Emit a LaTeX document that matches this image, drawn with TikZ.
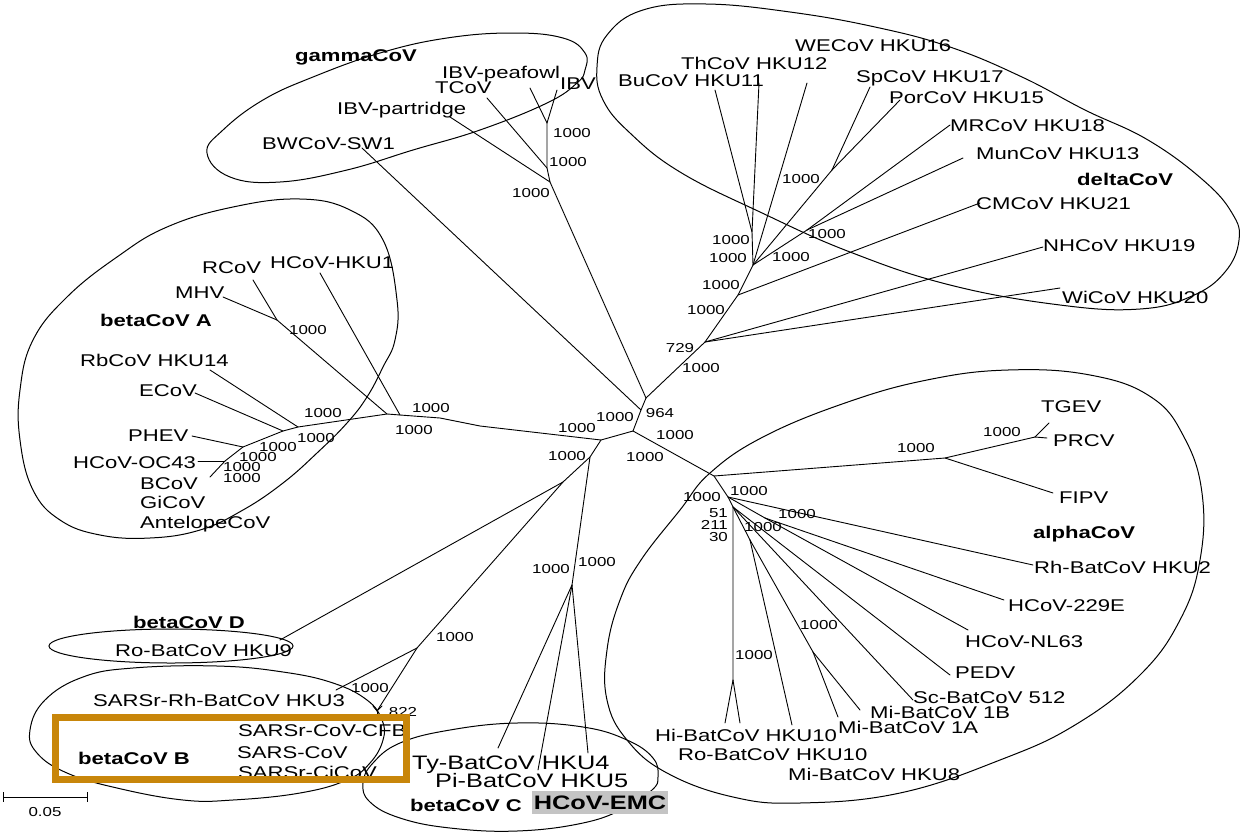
\documentclass[tikz,border=0pt]{standalone}
\usepackage{fontspec}
\setmainfont{Liberation Sans}[FakeStretch=1.3]
\definecolor{boxorange}{HTML}{C8860A}
\definecolor{emcgray}{HTML}{C4C4C4}
\begin{document}
\begin{tikzpicture}[x=1pt,y=-1pt,
  br/.style={line width=0.9pt, line cap=round, line join=round},
  loopline/.style={line width=1pt},
  lab/.style={anchor=west, inner sep=0pt, text height=12pt, text depth=0pt, font=\fontsize{17}{17}\selectfont},
  blab/.style={lab, font=\fontsize{17}{17}\selectfont\bfseries},
  biglab/.style={anchor=west, inner sep=0pt, text height=14pt, text depth=0pt, font=\fontsize{19.5}{19.5}\selectfont},
  num/.style={inner sep=0pt, text height=9.3pt, text depth=0pt, font=\fontsize{13}{13}\selectfont},
]
\path[use as bounding box] (0,0) rectangle (1240,836);

% ---------------- clade loops ----------------
\draw[loopline] plot[smooth cycle, tension=0.7] coordinates {(207,153) (223,130) (263,100) (313,77) (380,53) (447,38) (513,33) (563,38) (585,53) (585,70) (577,83) (547,103) (480,130) (413,150) (347,170) (280,182) (230,177)};
\draw[loopline] plot[smooth cycle, tension=0.7] coordinates {(597,67) (607,35) (643,10) (706,4) (790,12) (875,27) (950,47) (1022,77) (1085,110) (1148,140) (1203,180) (1232,213) (1239,240) (1225,272) (1192,296) (1140,309) (1060,305) (950,285) (850,252) (760,212) (680,172) (630,133) (603,100)};
\draw[loopline] plot[smooth cycle, tension=0.7] coordinates {(300,199) (350,210) (383,240) (397,300) (395,340) (383,367) (367,397) (347,423) (317,453) (283,483) (243,510) (200,530) (150,538) (100,535) (60,520) (33,490) (20,440) (20,390) (33,340) (67,297) (117,257) (167,227) (233,207)};
\draw[loopline] (171,646) ellipse [x radius=122pt, y radius=17pt];
\draw[loopline] plot[smooth cycle, tension=0.7] coordinates {(30,730) (45,700) (83,677) (133,668) (217,666) (283,672) (333,683) (367,700) (382,720) (383,740) (370,763) (347,780) (300,793) (233,800) (183,800) (117,788) (67,773) (37,753)};
\draw[loopline] plot[smooth cycle, tension=0.7] coordinates {(363,783) (373,763) (400,743) (450,730) (517,723) (583,727) (627,740) (653,758) (658,777) (652,790) (625,808) (583,823) (517,831) (450,828) (400,818) (370,802)};
\draw[loopline] plot[smooth cycle, tension=0.7] coordinates {(710,473) (763,437) (845,403) (927,380) (1008,370) (1090,375) (1151,397) (1184,437) (1202,493) (1200,560) (1180,620) (1140,675) (1075,725) (1000,760) (900,793) (800,803) (733,797) (667,773) (627,740) (607,700) (607,650) (620,600) (641,560) (680,510)};

% ---------------- tree coordinates ----------------
\coordinate (C) at (633,431);
\coordinate (Bw) at (641,410);
\coordinate (Gd) at (646,398);
% gamma
\coordinate (G0) at (550,182);
\coordinate (G1) at (547,168);
\coordinate (G2) at (547,123);
\coordinate (lBW) at (362,148);
\coordinate (lPart) at (450,117);
\coordinate (lTCoV) at (487,98);
\coordinate (lPea) at (530,88);
\coordinate (lIBV) at (557,90);
% delta
\coordinate (D1) at (705,342);
\coordinate (D2) at (738,295);
\coordinate (D3) at (753,265);
\coordinate (D4) at (752,232);
\coordinate (P) at (832,170);
\coordinate (M) at (807,230);
\coordinate (lBu) at (715,90);
\coordinate (lTh) at (759,83);
\coordinate (lWE) at (807,83);
\coordinate (lSp) at (870,87);
\coordinate (lPor) at (900,100);
\coordinate (lMR) at (950,125);
\coordinate (lMun) at (963,158);
\coordinate (lCM) at (980,203);
\coordinate (lNH) at (1043,247);
\coordinate (lWi) at (1060,288);
% beta
\coordinate (B0) at (601,440);
\coordinate (a1) at (480,426);
\coordinate (a2) at (440,418);
\coordinate (A1) at (400,415);
\coordinate (A2) at (387,414);
\coordinate (A4) at (298,427);
\coordinate (A5) at (283,431);
\coordinate (A6) at (243,447);
\coordinate (A7) at (225,461);
\coordinate (A8) at (210,477);
\coordinate (AMR) at (277,320);
\coordinate (lHKU1) at (320,273);
\coordinate (lMHV) at (223,297);
\coordinate (lRCoV) at (253,280);
\coordinate (lRb) at (210,370);
\coordinate (lE) at (195,393);
\coordinate (lPH) at (192,436);
\coordinate (lOC) at (198,461);
\coordinate (BBD) at (590,457);
\coordinate (BDB) at (563,482);
\coordinate (BC) at (572,585);
\coordinate (B1) at (417,648);
\coordinate (B822) at (377,711);
\coordinate (lHKU9) at (280,640);
\coordinate (lHKU3) at (336,690);
\coordinate (t1) at (373,706);
\coordinate (t2) at (382,706);
\coordinate (t3) at (377,716);
\coordinate (lTy) at (498,748);
\coordinate (lPi) at (538,770);
\coordinate (lEMC) at (588,753);
% alpha
\coordinate (A0) at (714,476);
\coordinate (T1) at (945,458);
\coordinate (T2) at (1035,437);
\coordinate (lTGEV) at (1049,423);
\coordinate (lPRCV) at (1047,438);
\coordinate (lFIPV) at (1053,493);
\coordinate (X1) at (728,497);
\coordinate (X2) at (733,507);
\coordinate (N2) at (765,518);
\coordinate (lRh) at (1033,565);
\coordinate (l229) at (1004,600);
\coordinate (lNL) at (968,630);
\coordinate (lPED) at (950,675);
\coordinate (lSc) at (913,700);
\coordinate (B1a) at (750,540);
\coordinate (M1) at (813,652);
\coordinate (lHKU8) at (792,725);
\coordinate (l1A) at (838,717);
\coordinate (l1B) at (860,710);
\coordinate (H0) at (733,680);
\coordinate (lHi) at (725,723);
\coordinate (lRo) at (740,723);

% ---------------- branches ----------------
\draw[br] (C) -- (Bw) -- (Gd);
\draw[br] (Bw) -- (lBW);
\draw[br] (Gd) -- (G0) -- (G1) -- (G2);
\draw[br] (G0) -- (lPart);
\draw[br] (G1) -- (lTCoV);
\draw[br] (G2) -- (lPea);
\draw[br] (G2) -- (lIBV);
\draw[br] (Gd) -- (D1) -- (D2) -- (D3) -- (D4);
\draw[br] (D1) -- (lNH);
\draw[br] (D1) -- (lWi);
\draw[br] (D2) -- (lCM);
\draw[br] (D3) -- (lWE);
\draw[br] (D3) -- (P);
\draw[br] (D3) -- (M);
\draw[br] (D4) -- (lBu);
\draw[br] (D4) -- (lTh);
\draw[br] (P) -- (lSp);
\draw[br] (P) -- (lPor);
\draw[br] (M) -- (lMR);
\draw[br] (M) -- (lMun);
\draw[br] (C) -- (B0) -- (a1) -- (a2) -- (A1) -- (A2) -- (A4) -- (A5) -- (A6) -- (A7) -- (A8);
\draw[br] (A1) -- (lHKU1);
\draw[br] (A2) -- (AMR);
\draw[br] (AMR) -- (lMHV);
\draw[br] (AMR) -- (lRCoV);
\draw[br] (A4) -- (lRb);
\draw[br] (A5) -- (lE);
\draw[br] (A6) -- (lPH);
\draw[br] (A7) -- (lOC);
\draw[br] (B0) -- (BBD) -- (BDB) -- (B1) -- (B822);
\draw[br] (BBD) -- (BC);
\draw[br] (BDB) -- (lHKU9);
\draw[br] (B1) -- (lHKU3);
\draw[br] (B822) -- (t1);
\draw[br] (B822) -- (t2);
\draw[br] (B822) -- (t3);
\draw[br] (BC) -- (lTy);
\draw[br] (BC) -- (lPi);
\draw[br] (BC) -- (lEMC);
\draw[br] (C) -- (A0) -- (X1) -- (X2) -- (H0);
\draw[br] (A0) -- (T1) -- (T2);
\draw[br] (T1) -- (lFIPV);
\draw[br] (T2) -- (lTGEV);
\draw[br] (T2) -- (lPRCV);
\draw[br] (X1) -- (lRh);
\draw[br] (X1) -- (N2);
\draw[br] (N2) -- (l229);
\draw[br] (N2) -- (lNL);
\draw[br] (X2) -- (lPED);
\draw[br] (X2) -- (lSc);
\draw[br] (X2) -- (B1a);
\draw[br] (B1a) -- (lHKU8);
\draw[br] (B1a) -- (M1);
\draw[br] (M1) -- (l1A);
\draw[br] (M1) -- (l1B);
\draw[br] (H0) -- (lHi);
\draw[br] (H0) -- (lRo);

% ---------------- bootstrap values ----------------
\node[num] (n1) at (572,133) {1000};
\node[num] (n2) at (568,162) {1000};
\node[num] (n3) at (531,193) {1000};
\node[num] (n4) at (308,330) {1000};
\node[num] (n5) at (431,408) {1000};
\node[num] (n6) at (414,430) {1000};
\node[num] (n7) at (323,413) {1000};
\node[num] (n8) at (316,438) {1000};
\node[num] (n9) at (278,447) {1000};
\node[num] (n10) at (258,457) {1000};
\node[num] (n11) at (242,467) {1000};
\node[num] (n12) at (242,478) {1000};
\node[num] (n13) at (577,428) {1000};
\node[num] (n14) at (615,417) {1000};
\node[num] (n15) at (660,413) {964};
\node[num] (n16) at (675,435) {1000};
\node[num] (n17) at (645,457) {1000};
\node[num] (n18) at (567,456) {1000};
\node[num] (n19) at (680,348) {729};
\node[num] (n20) at (701,368) {1000};
\node[num] (n21) at (706,310) {1000};
\node[num] (n22) at (801,179) {1000};
\node[num] (n23) at (731,240) {1000};
\node[num] (n24) at (728,258) {1000};
\node[num] (n25) at (791,257) {1000};
\node[num] (n26) at (827,234) {1000};
\node[num] (n27) at (721,285) {1000};
\node[num] (n28) at (551,569) {1000};
\node[num] (n29) at (597,562) {1000};
\node[num] (n30) at (455,637) {1000};
\node[num] (n31) at (370,688) {1000};
\node[num] (n32) at (403,712) {822};
\node[num] (n33) at (702,497) {1000};
\node[num] (n34) at (749,491) {1000};
\node[num, anchor=east] (n35) at (728,513) {51};
\node[num, anchor=east] (n36) at (728,525) {211};
\node[num, anchor=east] (n37) at (728,537) {30};
\node[num] (n38) at (763,527) {1000};
\node[num] (n39) at (797,514) {1000};
\node[num] (n40) at (819,625) {1000};
\node[num] (n41) at (754,655) {1000};
\node[num] (n42) at (916,448) {1000};
\node[num] (n43) at (1002,432) {1000};

% ---------------- taxon labels ----------------
\node[blab] (gam) at (295,55) {gammaCoV};
\node[lab] (t-pea) at (442,72) {IBV-peafowl};
\node[lab] (t-tcov) at (435,87) {TCoV};
\node[lab] (t-ibv) at (560,83) {IBV};
\node[lab] (t-part) at (337,108) {IBV-partridge};
\node[lab] (t-bw) at (262,143) {BWCoV-SW1};
\node[lab] (t-we) at (795,45) {WECoV HKU16};
\node[lab] (t-th) at (681,63) {ThCoV HKU12};
\node[lab] (t-bu) at (618,80) {BuCoV HKU11};
\node[lab] (t-sp) at (856,76) {SpCoV HKU17};
\node[lab] (t-por) at (889,97) {PorCoV HKU15};
\node[lab] (t-mr) at (950,125) {MRCoV HKU18};
\node[lab] (t-mun) at (976,153) {MunCoV HKU13};
\node[blab] (del) at (1077,179) {deltaCoV};
\node[lab] (t-cm) at (976,203) {CMCoV HKU21};
\node[lab] (t-nh) at (1043,245) {NHCoV HKU19};
\node[lab] (t-wi) at (1062,297) {WiCoV HKU20};
\node[lab] (t-rcov) at (202,267) {RCoV};
\node[lab] (t-hku1) at (270,262) {HCoV-HKU1};
\node[lab] (t-mhv) at (175,292) {MHV};
\node[blab] (betA) at (100,320) {betaCoV A};
\node[lab] (t-rb) at (80,360) {RbCoV HKU14};
\node[lab] (t-ecov) at (139,390) {ECoV};
\node[lab] (t-phev) at (128,435) {PHEV};
\node[lab] (t-oc) at (73,462) {HCoV-OC43};
\node[lab] (t-bcov) at (140,483) {BCoV};
\node[lab] (t-gi) at (140,502) {GiCoV};
\node[lab] (t-ant) at (140,522) {AntelopeCoV};
\node[blab] (betD) at (133,622) {betaCoV D};
\node[lab] (t-hku9) at (115,650) {Ro-BatCoV HKU9};
\node[lab] (t-hku3) at (93,700) {SARSr-Rh-BatCoV HKU3};
\node[lab] (t-cfb) at (238,730) {SARSr-CoV-CFB};
\node[lab] (t-sars) at (237,752) {SARS-CoV};
\node[lab] (t-ci) at (238,772) {SARSr-CiCoV};
\node[blab] (betB) at (78,758) {betaCoV B};
\node[biglab] (t-ty) at (412,762) {Ty-BatCoV HKU4};
\node[biglab] (t-pi) at (435,780) {Pi-BatCoV HKU5};
\node[blab] (betC) at (410,805) {betaCoV C};
\node[fill=emcgray, inner xsep=1pt, inner ysep=0pt, minimum width=136pt, minimum height=23pt, text height=14pt, text depth=0pt, font=\fontsize{19.5}{19.5}\selectfont\bfseries] (t-emc) at (600,802) {HCoV-EMC};
\node[lab] (t-tgev) at (1041,406) {TGEV};
\node[lab] (t-prcv) at (1053,440) {PRCV};
\node[lab] (t-fipv) at (1059,497) {FIPV};
\node[blab] (alp) at (1033,532) {alphaCoV};
\node[lab] (t-rh) at (1034,567) {Rh-BatCoV HKU2};
\node[lab] (t-229) at (1008,605) {HCoV-229E};
\node[lab] (t-nl) at (965,641) {HCoV-NL63};
\node[lab] (t-ped) at (955,672) {PEDV};
\node[lab] (t-sc) at (913,697) {Sc-BatCoV 512};
\node[lab] (t-1b) at (870,712) {Mi-BatCoV 1B};
\node[lab] (t-1a) at (838,727) {Mi-BatCoV 1A};
\node[lab] (t-hi) at (655,735) {Hi-BatCoV HKU10};
\node[lab] (t-ro) at (678,754) {Ro-BatCoV HKU10};
\node[lab] (t-hku8) at (788,774) {Mi-BatCoV HKU8};

% ---------------- scale bar ----------------
\coordinate (sb1) at (3,797);
\coordinate (sb2) at (87,797);
\draw[line width=1pt] (sb1) -- (sb2);
\draw[line width=1pt] ([yshift=5pt]sb1) -- ([yshift=-5pt]sb1);
\draw[line width=1pt] ([yshift=5pt]sb2) -- ([yshift=-5pt]sb2);
\node[num] (sbl) at (45,812) {0.05};

% ---------------- highlight box ----------------
\draw[boxorange, line width=7pt] (55.5,717.5) rectangle (406.5,779.5);
\end{tikzpicture}
\end{document}
